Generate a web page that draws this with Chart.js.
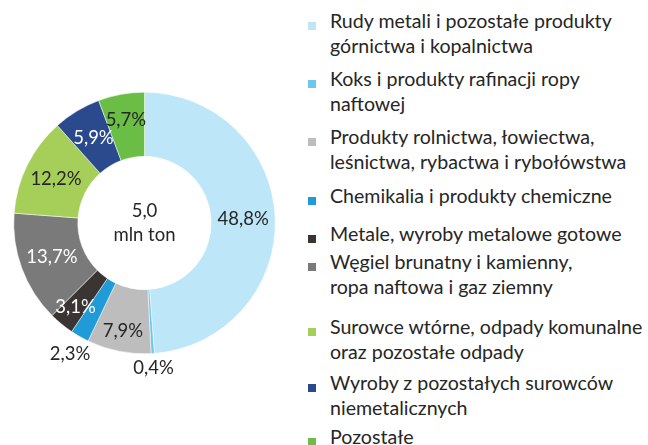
<!DOCTYPE html>
<html>
<head>
<meta charset="utf-8">
<script src="https://cdn.jsdelivr.net/npm/chart.js@4/dist/chart.umd.min.js"></script>
<style>
  body { margin: 0; background: #fff; }
  #wrap { position: relative; width: 648px; height: 445px; overflow: hidden; }
  #chartBox { position: absolute; left: 0; top: 0; width: 290px; height: 445px; }
  .leg { position: absolute; left: 330px; font-family: Lato, sans-serif; font-size: 19.6px; line-height: 25px; color: #262626; white-space: nowrap; }
  .leg i { position: absolute; left: -22px; top: 14px; width: 8px; height: 8px; }
</style>
</head>
<body>
<div id="wrap">
  <div id="chartBox"><canvas id="graficoTransport"></canvas></div>
  <div id="legenda"></div>
</div>
<script>
const kategorie = [
    ["Rudy metali i pozostałe produkty", "górnictwa i kopalnictwa"],
    ["Koks i produkty rafinacji ropy", "naftowej"],
    ["Produkty rolnictwa, łowiectwa,", "leśnictwa, rybactwa i rybołówstwa"],
    ["Chemikalia i produkty chemiczne"],
    ["Metale, wyroby metalowe gotowe"],
    ["Węgiel brunatny i kamienny,", "ropa naftowa i gaz ziemny"],
    ["Surowce wtórne, odpady komunalne", "oraz pozostałe odpady"],
    ["Wyroby z pozostałych surowców", "niemetalicznych"],
    ["Pozostałe"],
];
const udzialy = [48.8, 0.4, 7.9, 2.3, 3.1, 13.7, 12.2, 5.9, 5.7];
const srodek = ["5,0", "mln ton"];

const kolory = ["#bde6f8", "#6dc8ee", "#bcbdbc", "#1f9bd7", "#3a3432", "#7a7a7a", "#a6cf5a", "#2b4a8e", "#6abd45"];
const koloryEtykiet = ["#262626", "#262626", "#262626", "#262626", "#ffffff", "#ffffff", "#262626", "#ffffff", "#262626"];
// odleglosc etykiety od srodka (w promieniach zewnetrznych)
const promienEtykiet = [0.755, 1.11, 0.84, 1.15, 0.83, 0.755, 0.755, 0.755, 0.8];
const legendaTop = [8, 66, 124, 183, 221, 249, 314, 370, 424];

// legenda w HTML
const legenda = document.getElementById("legenda");
kategorie.forEach((linie, i) => {
    const d = document.createElement("div");
    d.className = "leg";
    d.style.top = legendaTop[i] + "px";
    d.innerHTML = '<i style="background:' + kolory[i] + '"></i>' + linie.join("<br>");
    legenda.appendChild(d);
});

const etykietyPlugin = {
    id: "etykiety",
    afterDatasetsDraw(chart) {
        const ctx = chart.ctx;
        const meta = chart.getDatasetMeta(0);
        ctx.save();
        ctx.font = "18.5px Lato";
        ctx.textAlign = "center";
        ctx.textBaseline = "middle";
        meta.data.forEach((arc, i) => {
            const p = arc.getProps(["x", "y", "startAngle", "endAngle", "outerRadius"], true);
            const a = (p.startAngle + p.endAngle) / 2;
            const r = p.outerRadius * promienEtykiet[i];
            ctx.fillStyle = koloryEtykiet[i];
            const txt = udzialy[i].toFixed(1).replace(".", ",") + "%";
            ctx.fillText(txt, p.x + Math.cos(a) * r, p.y + Math.sin(a) * r);
        });
        const x = meta.data[0].x, y = meta.data[0].y;
        ctx.fillStyle = "#262626";
        ctx.fillText(srodek[0], x, y - 12);
        ctx.fillText(srodek[1], x, y + 12);
        ctx.restore();
    },
};

const configTransport = {
    type: "doughnut",
    data: {
        labels: kategorie.map((l) => l.join(" ")),
        datasets: [
            {
                data: udzialy,
                backgroundColor: kolory,
                borderColor: "#ffffff",
                borderWidth: 0.5,
            },
        ],
    },
    options: {
        responsive: true,
        maintainAspectRatio: false,
        animation: false,
        cutout: "51%",
        layout: {
            padding: { left: 13, right: 14, top: 92, bottom: 91 },
        },
        plugins: {
            legend: { display: false },
            tooltip: { enabled: false },
        },
    },
    plugins: [etykietyPlugin],
};

const chart = new Chart(document.getElementById("graficoTransport"), configTransport);
</script>
</body>
</html>
